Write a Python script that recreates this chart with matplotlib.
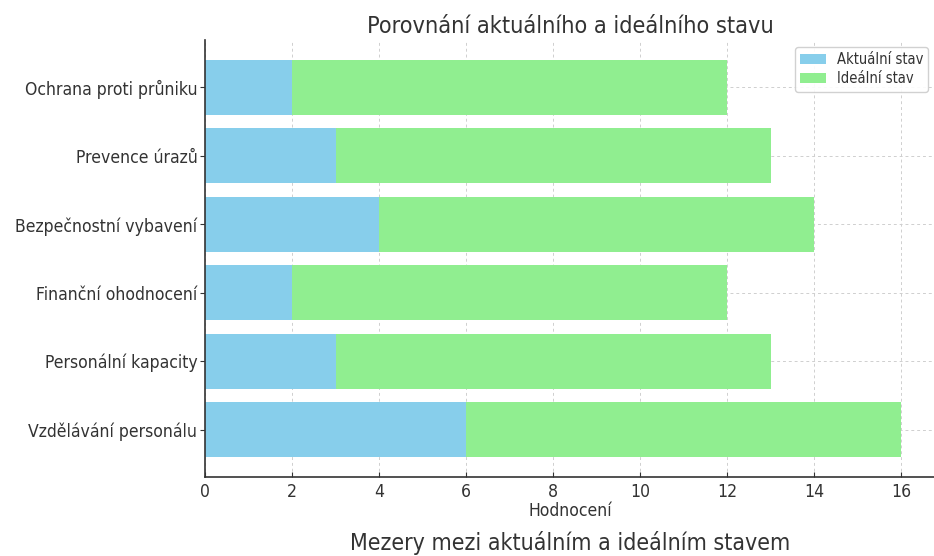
import matplotlib
matplotlib.use("Agg")
import matplotlib.pyplot as plt

categories = [
    "Vzdělávání personálu",
    "Personální kapacity",
    "Finanční ohodnocení",
    "Bezpečnostní vybavení",
    "Prevence úrazů",
    "Ochrana proti průniku",
]
aktualni = [6, 3, 2, 4, 3, 2]
idealni = [10, 10, 10, 10, 10, 10]

plt.rcParams["font.family"] = ["DejaVu Sans"]
plt.rcParams["font.stretch"] = "condensed"

fig = plt.figure(figsize=(9.34, 5.56), dpi=100)
ax = fig.add_axes([205 / 934, 79 / 556, 731 / 934, 437 / 556])

ax.barh(categories, aktualni, color="skyblue", label="Aktuální stav", zorder=2)
ax.barh(categories, idealni, left=aktualni, color="lightgreen",
        label="Ideální stav", zorder=2)

ax.set_xticks(range(0, 17, 2))
ax.grid(True, linestyle=(0, (3, 3)), color="#cfcfcf", linewidth=0.7, zorder=0)
ax.set_axisbelow(True)
for s in ("top", "right"):
    ax.spines[s].set_visible(False)
for s in ("left", "bottom"):
    ax.spines[s].set_color("#333333")
    ax.spines[s].set_linewidth(1.2)

ax.tick_params(axis="y", labelsize=12.6, colors="#333333", length=3.5, pad=2)
ax.tick_params(axis="x", labelsize=12.6, colors="#333333", length=3.5, pad=4,
               direction="in")
ax.set_xlabel("Hodnocení", fontsize=12.6, color="#333333", labelpad=1)
ax.set_title("Porovnání aktuálního a ideálního stavu", fontsize=16.8,
             color="#333333", pad=5)

ax.legend(loc="upper right", bbox_to_anchor=(928 / 934, 1 - 47 / 556),
          bbox_transform=fig.transFigure, fontsize=10.5, framealpha=0.9,
          borderaxespad=0, labelcolor="#333333", labelspacing=0.3,
          borderpad=0.35, handlelength=1.8, handletextpad=0.7)

fig.text(570 / 934, 1 - 543 / 556, "Mezery mezi aktuálním a ideálním stavem",
         ha="center", va="center", fontsize=16.6, color="#333333")

fig.savefig("out.png", dpi=100)
